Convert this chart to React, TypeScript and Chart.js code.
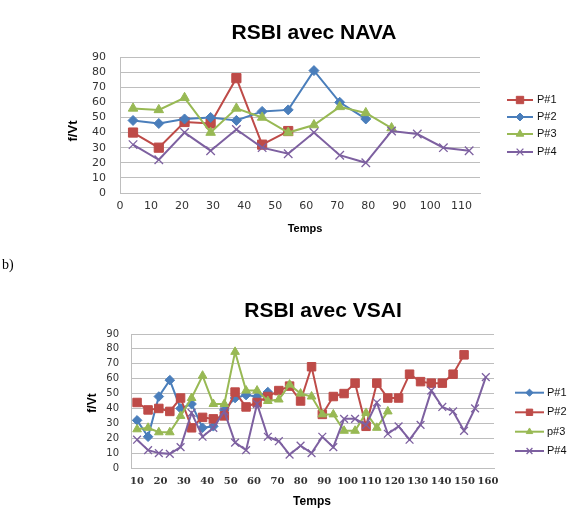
import React, { useEffect, useRef } from 'react';
import { Chart, registerables } from 'chart.js';
import { drawPoint } from 'chart.js/helpers';

Chart.register(...registerables);

// ---------- text ----------
const NAVA_TITLE = 'RSBI avec NAVA';
const VSAI_TITLE = 'RSBI avec VSAI';
const Y_TITLE = 'f/Vt';
const X_TITLE = 'Temps';
const PANEL_LABEL = 'b)';

// ---------- chart 1 : RSBI avec NAVA ----------
const navaSeriesNames = ['P#1', 'P#2', 'P#3', 'P#4'];
const navaTimes = [4.2, 12.5, 20.8, 29.2, 37.5, 45.8, 54.2, 62.5, 70.8, 79.2, 87.5, 95.8, 104.2, 112.5];
const navaP1 = [40, 30, 47, 46, 76, 32, 41];
const navaP2 = [48, 46, 49, 50, 48, 54, 55, 81, 60, 49];
const navaP3 = [56, 55, 63, 40, 56, 50, 40, 45, 57, 53, 43];
const navaP4 = [32, 22, 40, 28, 42, 30, 26, 40, 25, 20, 41, 39, 30, 28];
const navaXTicks = [0, 10, 20, 30, 40, 50, 60, 70, 80, 90, 100, 110];

// ---------- chart 2 : RSBI avec VSAI ----------
const vsaiSeriesNames = ['P#1', 'P#2', 'p#3', 'P#4'];
const vsaiTimes = [10, 14.7, 19.3, 24, 28.6, 33.3, 38, 42.6, 47.3, 51.9, 56.6, 61.3, 65.9, 70.6, 75.2, 79.9,
  84.6, 89.2, 93.9, 98.5, 103.2, 107.9, 112.5, 117.2, 121.8, 126.5, 131.2, 135.8, 140.5, 145.1, 149.8, 154.5, 159.1];
const vsaiP1 = [32, 21, 48, 59, 40, 43, 27, 28, 39, 47, 49, 48, 51];
const vsaiP2 = [44, 39, 40, 38, 47, 27, 34, 33, 35, 51, 41, 44, 48, 52, 55, 45, 68, 36, 48, 50, 57, 28, 57, 47, 47, 63, 58, 57, 57, 63, 76];
const vsaiP3 = [26, 27, 24, 24, 35, 47, 62, 43, 43, 78, 52, 52, 45, 46, 56, 50, 48, 36, 36, 25, 25, 37, 27, 38];
const vsaiP4 = [19, 12, 10, 9.5, 14, 37, 21, 27, 38, 17, 12, 43, 21, 18, 9, 15, 10, 21, 14, 33, 33, 29, 44, 23, 28, 19, 29, 52, 41, 38, 25, 40, 61];
const vsaiXTicks = [10, 20, 30, 40, 50, 60, 70, 80, 90, 100, 110, 120, 130, 140, 150, 160];

const yTicks = [0, 10, 20, 30, 40, 50, 60, 70, 80, 90];

// ---------- styles ----------
const BLUE = '#4A7EBB';
const RED = '#BE4B48';
const GREEN = '#98B954';
const PURPLE = '#7D60A0';
const GRID = '#BEBEBE';
const TICK_COLOR = '#333';

const toPoints = (times: number[], values: number[]) => values.map((v, i) => ({ x: times[i], y: v }));

function makeDataset(label: string, times: number[], values: number[], color: string, style: string, radius: number, order: number) {
  return {
    label,
    data: toPoints(times, values),
    borderColor: color,
    backgroundColor: color,
    borderWidth: 2,
    pointStyle: style,
    pointRadius: radius,
    pointHoverRadius: radius,
    pointBackgroundColor: color,
    pointBorderColor: color,
    pointBorderWidth: style === 'crossRot' ? 1.3 : 1,
    tension: 0,
    order,
  };
}

const decorPlugin = {
  id: 'decor',
  afterDraw(chart: any, _args: any, opts: any) {
    const ctx = chart.ctx;
    ctx.save();
    ctx.fillStyle = '#000';
    ctx.textBaseline = 'middle';
    ctx.textAlign = 'center';
    // title
    ctx.font = opts.title.font;
    ctx.fillText(opts.title.text, opts.title.x, opts.title.y);
    // x title
    ctx.font = opts.xTitle.font;
    ctx.fillText(opts.xTitle.text, opts.xTitle.x, opts.xTitle.y);
    // y title
    ctx.save();
    ctx.translate(opts.yTitle.x, opts.yTitle.y);
    ctx.rotate(-Math.PI / 2);
    ctx.font = opts.yTitle.font;
    ctx.fillText(opts.yTitle.text, 0, 0);
    ctx.restore();
    // legend
    const lg = opts.legend;
    chart.data.datasets.forEach((ds: any, i: number) => {
      const y = lg.ys[i];
      ctx.strokeStyle = ds.borderColor;
      ctx.lineWidth = ds.borderWidth;
      ctx.beginPath();
      ctx.moveTo(lg.x0, y);
      ctx.lineTo(lg.x1, y);
      ctx.stroke();
      ctx.fillStyle = ds.pointBackgroundColor;
      ctx.strokeStyle = ds.pointBorderColor;
      ctx.lineWidth = ds.pointBorderWidth;
      drawPoint(ctx, { pointStyle: ds.pointStyle, radius: ds.pointRadius * lg.scale, rotation: 0, borderWidth: ds.pointBorderWidth }, (lg.x0 + lg.x1) / 2, y);
      ctx.fillStyle = '#111';
      ctx.font = lg.font;
      ctx.textAlign = 'left';
      ctx.fillText(ds.label, lg.textX, y);
    });
    ctx.restore();
  },
};

function buildConfig(p: any) {
  return {
    type: 'line',
    data: { datasets: p.datasets },
    plugins: [decorPlugin],
    options: {
      animation: false,
      responsive: false,
      devicePixelRatio: 1,
      events: [],
      layout: { padding: p.padding },
      plugins: {
        legend: { display: false },
        title: { display: false },
        tooltip: { enabled: false },
        decor: p.decor,
      },
      scales: {
        x: {
          type: 'linear',
          min: p.xMin,
          max: p.xMax,
          afterBuildTicks: (s: any) => { s.ticks = p.xTicks.map((v: number) => ({ value: v })); },
          afterFit: (s: any) => { s.height = p.xAxisHeight; },
          ticks: { font: p.xTickFont, color: TICK_COLOR, padding: p.xTickPad, autoSkip: false, maxRotation: 0, minRotation: 0 },
          grid: { display: false, drawTicks: false },
          border: { display: true, color: GRID, width: 1 },
        },
        y: {
          min: 0,
          max: 90,
          afterBuildTicks: (s: any) => { s.ticks = yTicks.map((v) => ({ value: v })); },
          afterFit: (s: any) => { s.width = p.yAxisWidth; },
          ticks: { font: p.yTickFont, color: TICK_COLOR, padding: p.yTickPad, autoSkip: false },
          grid: { color: GRID, lineWidth: 1, drawTicks: false },
          border: { display: true, color: GRID, width: 1 },
        },
      },
    },
  };
}

const navaConfig = () => buildConfig({
  datasets: [
    makeDataset(navaSeriesNames[0], navaTimes, navaP1, RED, 'rect', 6.5, 3),
    makeDataset(navaSeriesNames[1], navaTimes, navaP2, BLUE, 'rectRot', 5, 2),
    makeDataset(navaSeriesNames[2], navaTimes, navaP3, GREEN, 'triangle', 5.5, 1),
    makeDataset(navaSeriesNames[3], navaTimes, navaP4, PURPLE, 'crossRot', 6, 0),
  ],
  padding: { left: 0, top: 57, right: 93, bottom: 0 },
  xMin: 0,
  xMax: 116,
  xTicks: navaXTicks,
  xAxisHeight: 57,
  yAxisWidth: 120,
  xTickFont: { family: 'DejaVu Sans', size: 11 },
  yTickFont: { family: 'DejaVu Sans', size: 11 },
  xTickPad: 7,
  yTickPad: 14,
  decor: {
    title: { text: NAVA_TITLE, x: 314, y: 33, font: 'bold 21px "Liberation Sans", Arial, sans-serif' },
    xTitle: { text: X_TITLE, x: 305, y: 229, font: 'bold 11px "Liberation Sans", Arial, sans-serif' },
    yTitle: { text: Y_TITLE, x: 73, y: 131, font: 'bold 13px "Liberation Sans", Arial, sans-serif' },
    legend: { ys: [100, 117, 134, 152], x0: 507, x1: 533, textX: 537, scale: 0.8, font: '11px "Liberation Sans", Arial, sans-serif' },
  },
});

const vsaiConfig = () => buildConfig({
  datasets: [
    makeDataset(vsaiSeriesNames[0], vsaiTimes, vsaiP1, BLUE, 'rectRot', 4.8, 3),
    makeDataset(vsaiSeriesNames[1], vsaiTimes, vsaiP2, RED, 'rect', 6, 2),
    makeDataset(vsaiSeriesNames[2], vsaiTimes, vsaiP3, GREEN, 'triangle', 5, 1),
    makeDataset(vsaiSeriesNames[3], vsaiTimes, vsaiP4, PURPLE, 'crossRot', 5.5, 0),
  ],
  padding: { left: 0, top: 84, right: 79, bottom: 0 },
  xMin: 7.4,
  xMax: 162.6,
  xTicks: vsaiXTicks,
  xAxisHeight: 54,
  yAxisWidth: 131,
  xTickFont: { family: 'DejaVu Serif', size: 10, weight: 'bold' },
  yTickFont: { family: 'DejaVu Sans', size: 10 },
  xTickPad: 7,
  yTickPad: 12,
  decor: {
    title: { text: VSAI_TITLE, x: 323, y: 61, font: 'bold 21px "Liberation Sans", Arial, sans-serif' },
    xTitle: { text: X_TITLE, x: 312, y: 252, font: 'bold 12px "Liberation Sans", Arial, sans-serif' },
    yTitle: { text: Y_TITLE, x: 93, y: 153, font: 'bold 12px "Liberation Sans", Arial, sans-serif' },
    legend: { ys: [142.7, 162.3, 181.7, 201], x0: 515, x1: 544, textX: 547, scale: 0.75, font: '11px "Liberation Sans", Arial, sans-serif' },
  },
});

function ChartCanvas({ makeConfig, width, height, top }: { makeConfig: () => any; width: number; height: number; top: number }) {
  const ref = useRef<HTMLCanvasElement | null>(null);
  useEffect(() => {
    if (!ref.current) return;
    const chart = new Chart(ref.current, makeConfig());
    return () => chart.destroy();
  }, [makeConfig]);
  return (
    <canvas
      ref={ref}
      width={width}
      height={height}
      style={{ position: 'absolute', left: 0, top, width, height, display: 'block' }}
    />
  );
}

export default function App() {
  return (
    <div style={{ position: 'absolute', left: 0, top: 0, width: 573, height: 522, background: '#fff', overflow: 'hidden' }}>
      <ChartCanvas makeConfig={navaConfig} width={573} height={250} top={0} />
      <ChartCanvas makeConfig={vsaiConfig} width={573} height={272} top={250} />
      <span style={{ position: 'absolute', left: 2, top: 257, fontFamily: '"Liberation Serif", serif', fontSize: 14, color: '#000', lineHeight: '16px' }}>
        {PANEL_LABEL}
      </span>
    </div>
  );
}
